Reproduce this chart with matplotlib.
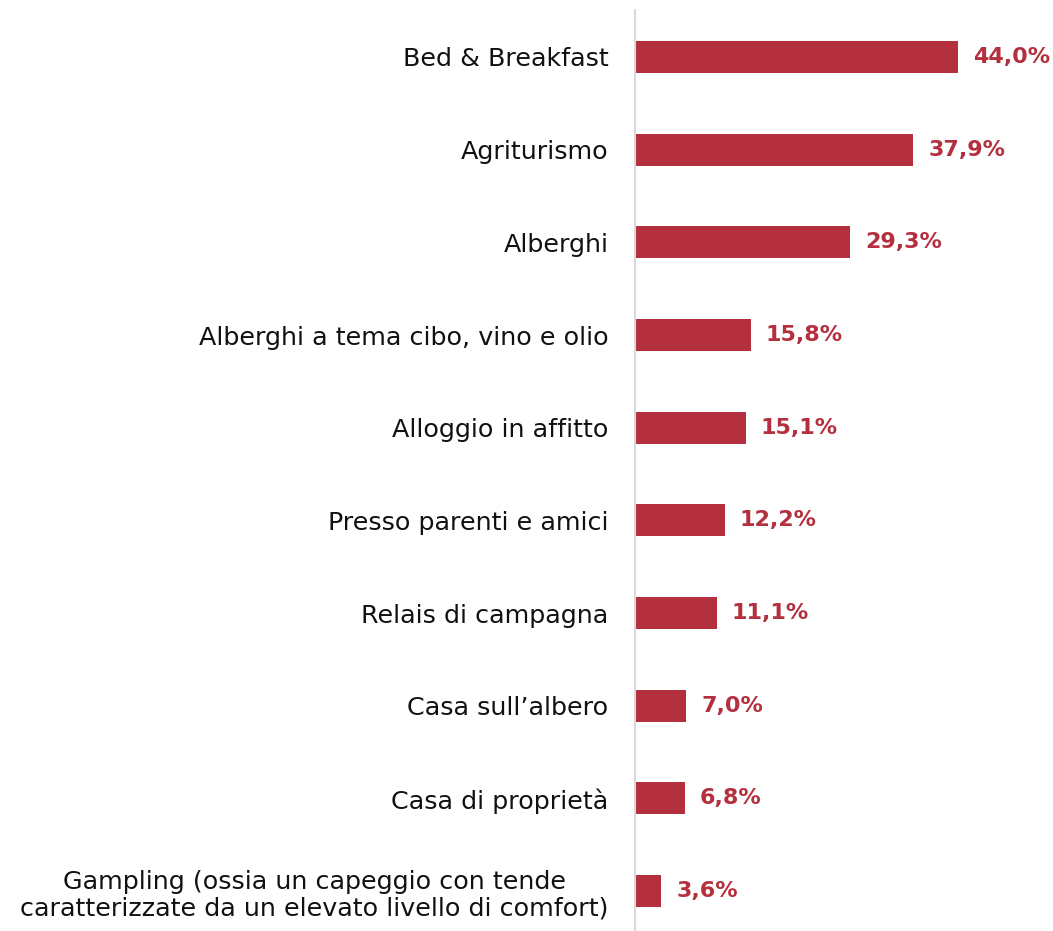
import numpy as np
import matplotlib.pyplot as plt

categories = [
    "Bed & Breakfast",
    "Agriturismo",
    "Alberghi",
    "Alberghi a tema cibo, vino e olio",
    "Alloggio in affitto",
    "Presso parenti e amici",
    "Relais di campagna",
    "Casa sull\u2019albero",
    "Casa di propriet\u00e0",
    "Gampling (ossia un capeggio con tende\ncaratterizzate da un elevato livello di comfort)",
]
values = [44.0, 37.9, 29.3, 15.8, 15.1, 12.2, 11.1, 7.0, 6.8, 3.6]

bar_color = "#B5303F"

fig = plt.figure(figsize=(10.53, 9.31), dpi=100)
ax = fig.add_axes([635 / 1053, 0, 418 / 1053, 921 / 931])

y = np.arange(len(categories))
ax.barh(y, values, height=0.345, color=bar_color)

for yi, v in zip(y, values):
    ax.text(v + 2.0, yi, f"{v:.1f}%".replace(".", ","), va="center", ha="left",
            fontsize=16, fontweight="bold", color=bar_color)

ax.set_xlim(0, 56.9)
ax.set_ylim(9.43, -0.507)
ax.set_yticks(y)
ax.set_yticklabels(categories, fontsize=18.3, color="#111111",
                   multialignment="center", linespacing=1.15)
ax.tick_params(axis="y", length=0, pad=19)
ax.set_xticks([])
for s in ["top", "right", "bottom"]:
    ax.spines[s].set_visible(False)
ax.spines["left"].set_color("#D9D9D9")
ax.spines["left"].set_linewidth(1.5)

fig.savefig("out.png", dpi=100)
